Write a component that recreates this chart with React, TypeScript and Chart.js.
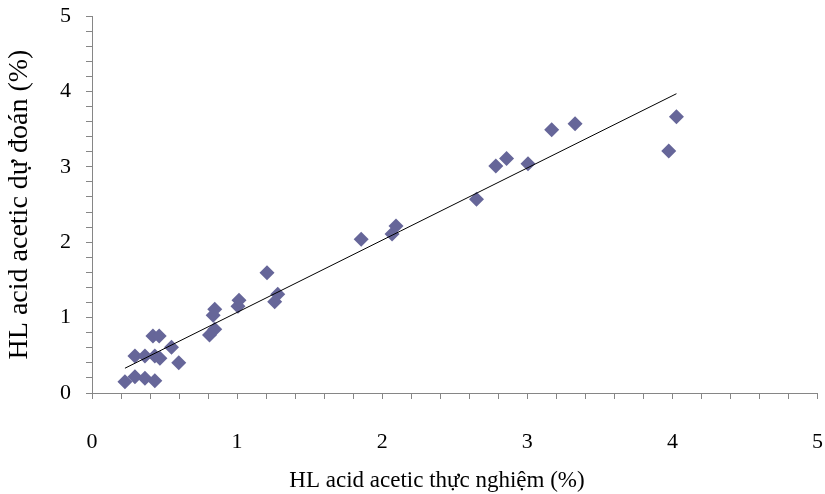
import React, { useEffect, useRef } from "react";
import { Chart, registerables } from "chart.js";

Chart.register(...registerables);

const experimental = [
  0.227, 0.296, 0.365, 0.433, 0.296, 0.365, 0.433, 0.468, 0.42, 0.463, 0.548, 0.598,
  0.81, 0.846, 0.835, 0.846, 1.006, 1.013, 1.206, 1.259, 1.28, 1.855, 2.068, 2.095,
  2.65, 2.783, 2.857, 3.005, 3.168, 3.329, 3.975, 4.028,
];
const predicted = [
  0.15, 0.216, 0.195, 0.163, 0.49, 0.49, 0.49, 0.46, 0.756, 0.756, 0.606, 0.4,
  0.77, 0.845, 1.03, 1.11, 1.15, 1.23, 1.595, 1.21, 1.31, 2.04, 2.11, 2.215,
  2.57, 3.01, 3.11, 3.04, 3.49, 3.57, 3.21, 3.665,
];
const axisMin = 0;
const axisMax = 5;
const minorStep = 0.2;
const xTitle = "HL acid acetic thực nghiệm (%)";
const yTitle = "HL acid acetic dự đoán (%)";

const FONT = "'Liberation Serif', 'Times New Roman', serif";
const AXIS_GRAY = "#868686";
const MARKER = "#666699";

function intLabel(v: number | string) {
  const n = Number(v);
  return Math.abs(n - Math.round(n)) < 1e-6 ? String(Math.round(n)) : "";
}

// Draws the x-axis title at the reference's position
const xTitlePlugin = {
  id: "xTitlePlugin",
  afterDraw(chart: any) {
    const ctx = chart.ctx as CanvasRenderingContext2D;
    ctx.save();
    ctx.font = `23px ${FONT}`;
    ctx.fillStyle = "#000";
    ctx.textAlign = "center";
    ctx.textBaseline = "alphabetic";
    ctx.fillText(xTitle, 437, 487);
    ctx.restore();
  },
};

export default function App() {
  const ref = useRef<HTMLCanvasElement>(null);

  useEffect(() => {
    const n = experimental.length;
    const mx = experimental.reduce((s, v) => s + v, 0) / n;
    const my = predicted.reduce((s, v) => s + v, 0) / n;
    let sxy = 0;
    let sxx = 0;
    for (let i = 0; i < n; i++) {
      sxy += (experimental[i] - mx) * (predicted[i] - my);
      sxx += (experimental[i] - mx) ** 2;
    }
    const slope = sxy / sxx;
    const intercept = my - slope * mx;
    const xLo = Math.min(...experimental);
    const xHi = Math.max(...experimental);

    const points = experimental.map((x, i) => ({ x, y: predicted[i] }));

    const chart = new Chart(ref.current!, {
      type: "scatter",
      data: {
        datasets: [
          {
            data: points,
            pointStyle: "rectRot",
            pointRadius: 7.5,
            pointBackgroundColor: MARKER,
            pointBorderColor: MARKER,
            pointBorderWidth: 0,
            order: 2,
          } as any,
          {
            type: "line",
            data: [
              { x: xLo, y: intercept + slope * xLo },
              { x: xHi, y: intercept + slope * xHi },
            ],
            borderColor: "#000000",
            borderWidth: 1,
            pointRadius: 0,
            fill: false,
            order: 1,
          } as any,
        ],
      },
      options: {
        responsive: true,
        maintainAspectRatio: false,
        animation: false,
        devicePixelRatio: 1,
        layout: { padding: { top: 16, right: 6, bottom: 0, left: 0 } },
        plugins: {
          legend: { display: false },
          tooltip: { enabled: false },
        },
        scales: {
          x: {
            type: "linear",
            min: axisMin,
            max: axisMax,
            afterFit: (s: any) => {
              s.height = 101;
              s.paddingLeft = 0;
              s.paddingRight = 0;
            },
            ticks: {
              stepSize: minorStep,
              autoSkip: false,
              maxRotation: 0,
              padding: 30,
              color: "#000",
              font: { family: FONT, size: 22 },
              callback: (v: any) => intLabel(v),
            },
            grid: {
              drawOnChartArea: false,
              drawTicks: true,
              tickLength: 6,
              color: AXIS_GRAY,
            },
            border: { color: AXIS_GRAY, width: 1 },
            title: { display: false },
          },
          y: {
            type: "linear",
            min: axisMin,
            max: axisMax,
            afterFit: (s: any) => {
              s.width = 92;
              s.paddingTop = 0;
              s.paddingBottom = 0;
            },
            ticks: {
              stepSize: minorStep,
              autoSkip: false,
              padding: 15,
              color: "#000",
              font: { family: FONT, size: 22 },
              callback: (v: any) => intLabel(v),
            },
            grid: {
              drawOnChartArea: false,
              drawTicks: true,
              tickLength: 6,
              color: AXIS_GRAY,
            },
            border: { color: AXIS_GRAY, width: 1 },
            title: {
              display: true,
              text: yTitle,
              color: "#000",
              font: { family: FONT, size: 28 },
              padding: { top: 3, bottom: 0 },
            },
          },
        },
      } as any,
      plugins: [xTitlePlugin],
    });
    return () => chart.destroy();
  }, []);

  return (
    <div style={{ position: "absolute", left: 0, top: 0, width: 825, height: 494, background: "#fff" }}>
      <canvas ref={ref} />
    </div>
  );
}
